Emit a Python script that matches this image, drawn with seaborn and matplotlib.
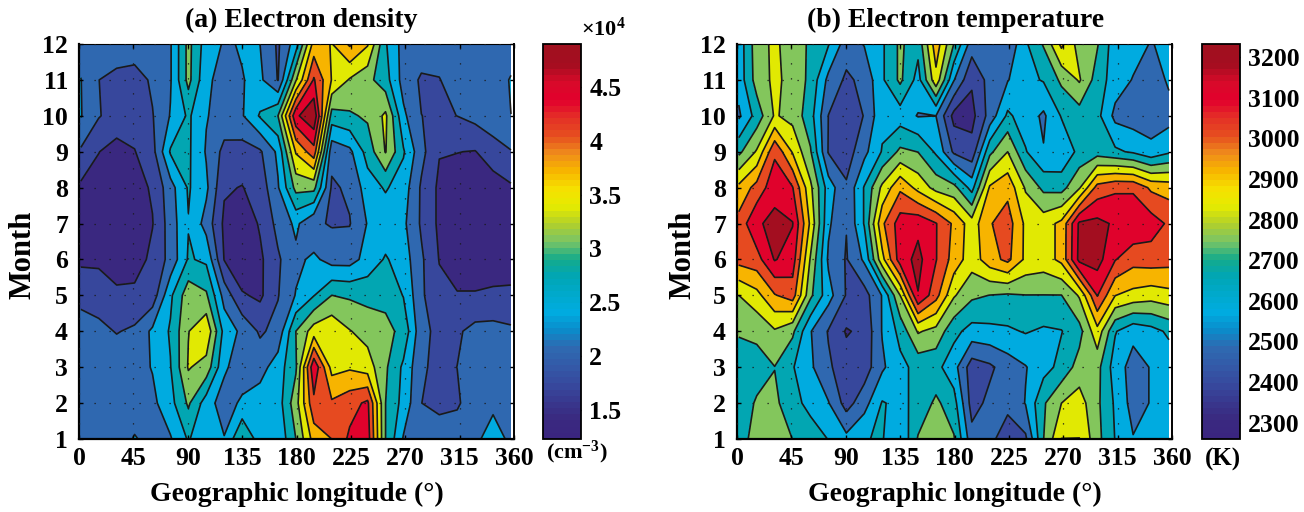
import numpy as np
import matplotlib
matplotlib.use("Agg")
import matplotlib.pyplot as plt
from matplotlib.cm import ScalarMappable
from matplotlib.colors import Normalize
import seaborn as sns

months = np.arange(1, 13)
lon_ticks = [0, 45, 90, 135, 180, 225, 270, 315, 360]
lon_grid = np.linspace(1.5, 357.5, 25)

ne_m1 = [2.1,2.1,2.1,2.25,2.15,2.2,2.6,2.25,2.25,2.9,2.4,2.3,2.9,3.7,3.9,4.3,4.4,2.9,2.2,2.1,2.1,2.1,2.15,2.4,2.15]
ne_m2 = [2.1,2.1,2.1,2.1,2.15,2.45,2.95,2.4,2.05,2.3,2.4,2.4,3.1,4.15,3.95,4.1,4.3,2.9,2.45,1.9,1.8,1.85,2.1,2.15,2.1]
ne_m3 = [2.1,2.1,2.1,2.1,2.25,2.55,3.26,3.1,2.3,2.0,2.1,2.4,2.85,4.5,3.45,3.52,3.4,2.95,2.5,1.95,1.8,1.9,2.1,2.1,2.1]
ne_m4 = [2.05,1.98,1.88,1.95,2.3,2.6,3.22,3.5,2.45,2.15,1.85,2.0,2.9,3.4,3.5,3.25,3.1,3.0,2.8,2.0,1.8,1.85,2.0,2.0,1.95]
ne_m5 = [1.8,1.75,1.65,1.65,1.7,2.5,3.1,2.95,2.1,1.6,1.5,1.88,2.25,2.55,2.9,2.85,2.8,2.8,2.55,1.95,1.65,1.6,1.6,1.65,1.65]
ne_m6 = [1.5,1.5,1.35,1.4,1.65,2.0,2.6,2.5,1.55,1.3,1.5,1.85,2.15,2.3,2.1,2.1,2.35,2.6,2.4,1.95,1.55,1.3,1.3,1.3,1.35]
ne_m7 = [1.4,1.3,1.3,1.35,1.55,2.05,2.55,2.1,1.5,1.35,1.6,2.0,2.3,1.95,1.87,1.88,2.25,2.35,2.3,1.85,1.5,1.3,1.3,1.3,1.3]
ne_m8 = [1.5,1.45,1.4,1.45,1.6,2.1,2.6,2.3,1.6,1.55,1.7,2.2,3.0,3.0,1.85,1.95,2.4,2.6,2.4,1.85,1.5,1.42,1.42,1.4,1.52]
ne_m9 = [1.85,1.57,1.45,1.55,1.78,2.6,2.62,2.2,1.8,1.75,1.85,2.3,3.6,4.1,2.0,2.15,2.7,3.25,2.6,2.0,1.58,1.57,1.55,1.75,1.88]
ne_m10 = [2.25,1.92,1.75,1.72,1.88,2.25,2.62,2.25,2.1,2.2,2.6,2.9,4.5,4.85,2.75,2.85,2.95,3.3,2.3,1.9,1.85,1.9,2.0,2.1,2.23]
ne_m11 = [2.24,1.9,1.8,1.75,1.95,2.2,3.0,2.3,2.1,2.22,2.3,1.88,3.2,4.27,3.55,3.2,3.0,2.7,2.1,1.85,1.88,2.1,2.1,2.1,2.25]
ne_m12 = [2.1,2.1,2.1,2.1,2.1,2.2,3.0,2.4,2.2,2.25,2.23,1.85,2.4,3.7,3.55,3.95,3.6,2.6,2.1,2.1,2.1,2.1,2.15,2.1,2.1]

te_m1 = [2660,2740,2790,2700,2670,2610,2550,2610,2620,2530,2710,2790,2710,2470,2440,2430,2420,2700,2880,2880,2730,2610,2530,2540,2550]
te_m2 = [2660,2710,2720,2650,2580,2530,2400,2490,2620,2590,2640,2720,2650,2400,2460,2440,2530,2690,2790,2830,2720,2600,2490,2530,2560]
te_m3 = [2660,2670,2700,2620,2540,2450,2390,2390,2510,2590,2640,2640,2560,2390,2420,2480,2520,2580,2640,2740,2730,2570,2490,2530,2560]
te_m4 = [2710,2720,2780,2720,2530,2430,2340,2370,2530,2640,2800,2760,2640,2580,2590,2600,2620,2600,2610,2670,2850,2620,2550,2580,2630]
te_m5 = [2790,2850,2960,3010,2720,2560,2430,2400,2530,2790,3140,3000,2800,2720,2700,2690,2700,2700,2700,2800,3060,2880,2850,2830,2850]
te_m6 = [3000,3020,3150,3100,2780,2510,2430,2540,2850,3100,3170,3060,2930,2830,2930,2990,2860,2840,2900,3170,3180,3060,3000,3010,3000]
te_m7 = [3000,3130,3170,3148,2860,2540,2440,2620,2950,3100,3120,3060,2950,2830,2960,3010,2860,2840,2900,3160,3170,3130,3130,3100,3040]
te_m8 = [2900,3000,3110,3060,2810,2570,2450,2620,2810,2950,2850,2760,2730,2580,2890,2940,2780,2680,2670,2780,3000,3040,3040,2950,2930]
te_m9 = [2680,2800,3040,2870,2710,2430,2390,2500,2620,2720,2700,2600,2420,2380,2680,2790,2620,2530,2540,2640,2660,2630,2600,2550,2600]
te_m10 = [2510,2650,2800,2760,2650,2435,2390,2440,2590,2570,2520,2525,2320,2320,2470,2630,2570,2510,2620,2660,2640,2500,2480,2480,2490]
te_m11 = [2560,2740,2810,2760,2680,2500,2420,2460,2600,2720,2580,2850,2530,2360,2470,2520,2590,2620,2720,2800,2660,2570,2520,2470,2540]
te_m12 = [2560,2750,2810,2740,2690,2620,2480,2530,2600,2720,2640,2930,2700,2480,2450,2450,2600,2710,2900,2750,2710,2560,2560,2520,2550]

ne_rows = [ne_m1,ne_m2,ne_m3,ne_m4,ne_m5,ne_m6,ne_m7,ne_m8,ne_m9,ne_m10,ne_m11,ne_m12]
te_rows = [te_m1,te_m2,te_m3,te_m4,te_m5,te_m6,te_m7,te_m8,te_m9,te_m10,te_m11,te_m12]
ne_range = (1.23, 4.9)
te_range = (2260, 3232)
ne_ticks = [1.5, 2, 2.5, 3, 3.5, 4, 4.5]
te_ticks = [2300, 2400, 2500, 2600, 2700, 2800, 2900, 3000, 3100, 3200]
stops = ["#3a2580","#3a2a80","#38398f","#374b9f","#335aa8","#2e6ab1","#0a8ccb","#00ace0","#00a9cc",
         "#00a6b5","#14ab8b","#79c466","#b2d02a","#e5eb00","#f6e000","#f7b500","#ef8a1c","#e64d1f",
         "#e42f27","#e2002d","#d80a2a","#a50d20","#a0101f"]

sns.set_theme(style="ticks")
plt.rcParams["font.family"] = ["Liberation Serif", "DejaVu Serif"]
plt.rcParams["font.weight"] = "bold"
plt.rcParams["mathtext.fontset"] = "custom"
plt.rcParams["mathtext.bf"] = "Liberation Serif:bold"
plt.rcParams["mathtext.rm"] = "Liberation Serif:bold"
plt.rcParams["mathtext.default"] = "bf"
for key in ["text.color", "axes.labelcolor", "xtick.color", "ytick.color", "axes.edgecolor"]:
    plt.rcParams[key] = "black"

cmap = sns.blend_palette(stops, as_cmap=True).resampled(64)
W, H = 1304, 512
fig = plt.figure(figsize=(W / 100, H / 100), dpi=100)


def box(x0, y0, x1, y1):
    return fig.add_axes([x0 / W, 1 - y1 / H, (x1 - x0) / W, (y1 - y0) / H])


def panel(x0, cx0, rows, rng, ticks, title, tickfmt, month_x, title_x):
    ax = box(x0, 44, x0 + 435, 439)
    z = np.array(rows, dtype=float)
    levels = np.linspace(rng[0], rng[1], 12)
    norm = Normalize(*rng)
    ax.contourf(lon_grid, months, z, levels=levels, cmap=cmap, norm=norm, extend="both")
    ax.contour(lon_grid, months, z, levels=levels, colors="k", linewidths=1.2)
    ax.set_xlim(0, 360)
    ax.set_ylim(1, 12)
    ax.set_xticks(lon_ticks)
    ax.set_yticks(months)
    ax.set_axisbelow(False)
    ax.grid(True, color="k", linestyle=(0, (1, 11)), linewidth=0.9)
    ax.tick_params(direction="in", length=3, width=1, top=True, right=True, labelsize=18.5)
    ax.tick_params(axis="x", pad=6)
    ax.tick_params(axis="y", pad=8)
    for side, lw in dict(left=1.6, bottom=1.6, top=0.8, right=1.4).items():
        ax.spines[side].set_linewidth(lw)
    ax.set_title(title, fontsize=20, fontweight="bold", pad=12, x=title_x)
    ax.set_xlabel("Geographic longitude (°)", fontsize=20, fontweight="bold", va="center")
    ax.xaxis.set_label_coords(0.5, -(494 - 439) / 395)
    ax.set_ylabel("Month", fontsize=22, fontweight="bold", va="center")
    ax.yaxis.set_label_coords((month_x - x0) / 435, (439 - 255) / 395)
    cax = box(cx0, 44, cx0 + 38, 439)
    cb = fig.colorbar(ScalarMappable(norm=norm, cmap=cmap), cax=cax)
    cb.set_ticks(ticks)
    cb.ax.set_yticklabels([tickfmt(t) for t in ticks])
    cb.ax.tick_params(direction="in", length=3, width=1, left=True, right=True, labelsize=18.5, pad=6)
    cb.outline.set_linewidth(1.3)
    return ax, cb


panel(79, 543, ne_rows, ne_range, ne_ticks, "(a) Electron density", lambda t: f"{t:g}", 23, 0.51)
panel(737, 1202, te_rows, te_range, te_ticks, "(b) Electron temperature", lambda t: f"{t:d}", 683, 0.503)
fig.text(603 / W, 1 - 29 / H, "×10$^{4}$", ha="center", va="center", fontsize=16)
fig.text(577 / W, 1 - 452 / H, "(cm$^{-3}$)", ha="center", va="center", fontsize=16)
fig.text(1223 / W, 1 - 459 / H, "(K)", ha="center", va="center", fontsize=18)
fig.savefig("out.png", dpi=100, facecolor="white")
